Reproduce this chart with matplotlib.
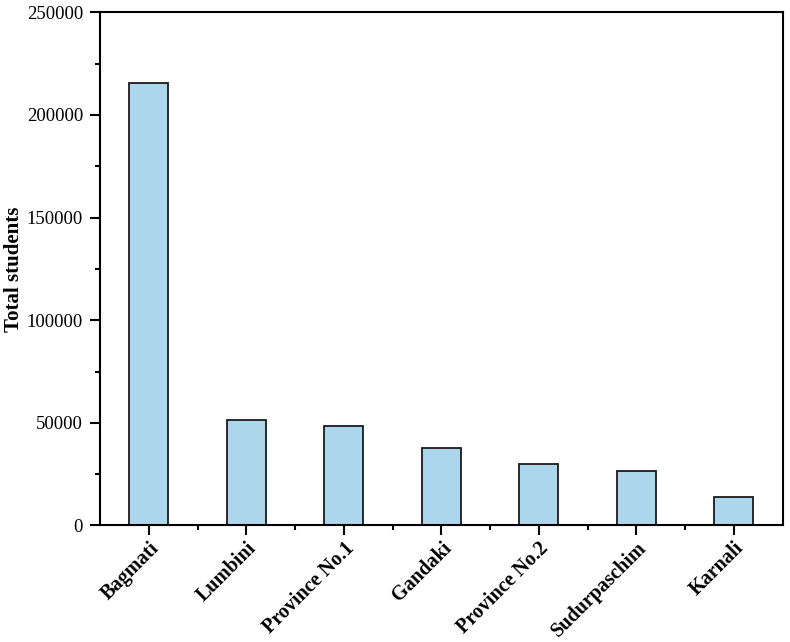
import matplotlib
matplotlib.use('Agg')
import matplotlib.pyplot as plt
from matplotlib.ticker import MultipleLocator

provinces = ['Bagmati', 'Lumbini', 'Province No.1', 'Gandaki',
             'Province No.2', 'Sudurpaschim', 'Karnali']
students = [215700, 51400, 48300, 37600, 29800, 26700, 13900]

plt.rcParams['font.family'] = 'Liberation Serif'

fig = plt.figure(figsize=(7.9, 6.42), dpi=100)
ax = fig.add_axes([0.1266, 0.1815, 0.8642, 0.7993])

x = list(range(len(provinces)))
ax.bar(x, students, width=0.4, color='#acd6ec', edgecolor='#1a1a1a', linewidth=1.3)

ax.set_xlim(-0.5, len(provinces) - 0.5)
ax.set_ylim(0, 250000)
ax.yaxis.set_major_locator(MultipleLocator(50000))
ax.yaxis.set_minor_locator(MultipleLocator(25000))
ax.set_xticks(x)
ax.set_xticks([i + 0.5 for i in x[:-1]], minor=True)
ax.set_xticklabels(provinces, rotation=45, ha='right', rotation_mode='anchor',
                   fontsize=14.5, fontweight='bold')

for side in ax.spines:
    ax.spines[side].set_linewidth(1.5)
ax.tick_params(which='major', direction='out', length=7.2, width=1.5)
ax.tick_params(which='minor', direction='out', length=3.6, width=1.5)
ax.tick_params(axis='y', which='major', labelsize=13.5, pad=5)
ax.tick_params(axis='x', which='major', pad=2)
ax.set_ylabel('Total students', fontsize=15, fontweight='bold')
ax.yaxis.set_label_coords(-0.112, 0.5)

fig.savefig('out.png', dpi=100)
